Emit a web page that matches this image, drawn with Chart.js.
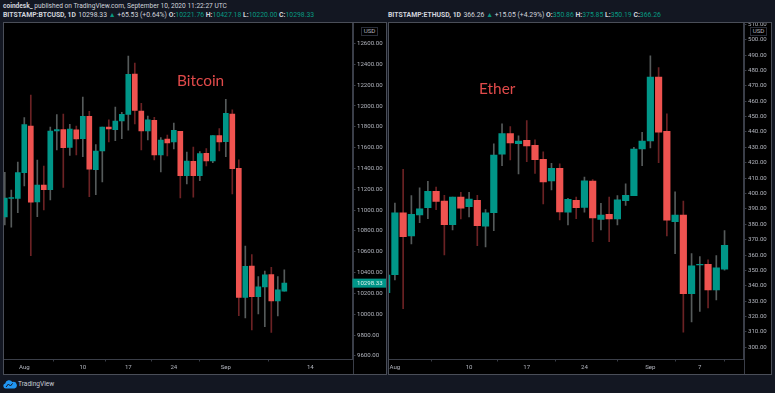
<!DOCTYPE html>
<html>
<head>
<meta charset="utf-8">
<title>BTC and ETH daily candles</title>
<script src="https://cdn.jsdelivr.net/npm/chart.js@4/dist/chart.umd.min.js"></script>
<style>
  html, body { margin: 0; padding: 0; background: #131722; width: 775px; height: 393px; overflow: hidden; }
  body { font-family: Roboto, sans-serif; color: #d1d4dc; position: relative; }
  .line { position: absolute; left: 3px; white-space: nowrap; font-size: 6.6px; line-height: 8px; }
  .line.quote { font-size: 6.85px; }
  .line b { font-weight: 700; }
  .line i { font-style: normal; color: #089981; }
  .line span { margin-left: 2.4px; }
  .panel { position: absolute; top: 22px; width: 382px; height: 351px; border: 1px solid #4a4e58; background: #000; }
  .panel canvas { position: absolute; left: 0; top: 0; }
  .badge { position: absolute; top: 4px; width: 15px; height: 7px; border: 1px solid #2a2e39; background: #000;
           font-size: 6.2px; line-height: 7px; text-align: center; color: #b2b5be; }
  .coin { position: absolute; font-family: Lato, sans-serif; font-size: 15.4px; line-height: 18px; color: #e04a4a; }
  .brand { position: absolute; left: 18px; top: 380px; font-size: 6.6px; line-height: 9px; color: #c8ccd6; }
  .logo { position: absolute; left: 3px; top: 379px; }
</style>
</head>
<body>
<div class="line" style="top:2px"><b>coindesk_</b> published on TradingView.com, September 10, 2020 11:22:27 UTC</div>
<div class="line quote" style="top:11px"><b>BITSTAMP:BTCUSD, 1D</b><span>10298.33</span> <i>▲</i> +65.53 (+0.64%) <b>O:</b><i>10221.76</i> <b>H:</b><i>10427.18</i> <b>L:</b><i>10220.00</i> <b>C:</b><i>10298.33</i></div>
<div class="line quote" style="top:11px;left:388px"><b>BITSTAMP:ETHUSD, 1D</b><span>366.26</span> <i>▲</i> +15.05 (+4.29%) <b>O:</b><i>350.86</i> <b>H:</b><i>375.85</i> <b>L:</b><i>350.19</i> <b>C:</b><i>366.26</i></div>

<div class="panel" style="left:3px">
  <canvas id="btcChart" width="382" height="351"></canvas>
  <div class="badge" style="left:357px">USD</div>
  <div class="coin" style="left:173px;top:48px">Bitcoin</div>
</div>
<div class="panel" style="left:388px">
  <canvas id="ethChart" width="382" height="351"></canvas>
  <div class="badge" style="left:361px">USD</div>
  <div class="coin" style="left:90px;top:56px">Ether</div>
</div>

<svg class="logo" width="14" height="10" viewBox="0 0 14 10">
  <path d="M2.8 9.5 A2.6 2.6 0 0 1 2.2 4.4 A4 4 0 0 1 9.4 3 A3.3 3.3 0 0 1 11.4 9.5 Z" fill="#2196f3"/>
  <path d="M3 8 L5.4 5 L7.4 7 L9.6 4.4" fill="none" stroke="#131722" stroke-width="1"/>
</svg>
<div class="brand">TradingView</div>

<script>
// days counted from Aug 1 2020
const btcDays = [-3, -2, -1, 0, 1, 2, 3, 4, 5, 6, 7, 8, 9, 10, 11, 12, 13, 14, 15, 16, 17, 18, 19, 20, 21, 22, 23, 24, 25, 26, 27, 28, 29, 30, 31, 32, 33, 34, 35, 36, 37, 38, 39, 40];
const btcOpen = [10934, 11112, 11113, 11360, 11808, 11078, 11241, 11196, 11760, 11773, 11603, 11770, 11686, 11901, 11388, 11568, 11798, 11773, 11856, 11920, 12307, 11952, 11760, 11862, 11529, 11683, 11654, 11757, 11331, 11469, 11331, 11545, 11472, 11715, 11657, 11923, 11402, 10162, 10463, 10169, 10262, 10380, 10127, 10221.76];
const btcHigh = [11363, 11193, 11462, 11888, 12106, 11481, 11424, 11798, 11917, 11923, 11824, 11808, 12086, 11949, 11629, 11798, 11866, 11990, 11939, 12480, 12413, 12026, 11904, 11891, 11696, 11721, 11837, 11757, 11558, 11606, 11561, 11590, 11715, 11782, 12064, 11962, 11482, 10655, 10572, 10361, 10415, 10451, 10361, 10427.18];
const btcLow = [10857, 10835, 10975, 11232, 10562, 10937, 11001, 11097, 11577, 11219, 11526, 11529, 11513, 11129, 11148, 11270, 11654, 11667, 11686, 11769, 11827, 11577, 11673, 11481, 11366, 11520, 11587, 11116, 11251, 11123, 11283, 11424, 11456, 11568, 11513, 11155, 9986, 9964, 9849, 10002, 9881, 9826, 9983, 10220];
const btcClose = [11116, 11120, 11360, 11821, 11075, 11241, 11196, 11760, 11773, 11600, 11779, 11683, 11901, 11392, 11568, 11798, 11779, 11856, 11920, 12304, 11958, 11760, 11866, 11529, 11673, 11645, 11766, 11331, 11472, 11331, 11542, 11472, 11715, 11654, 11930, 11398, 10162, 10460, 10169, 10262, 10377, 10127, 10233, 10298.33];

const ethDays = [-1, 0, 1, 2, 3, 4, 5, 6, 7, 8, 9, 10, 11, 12, 13, 14, 15, 16, 17, 18, 19, 20, 21, 22, 23, 24, 25, 26, 27, 28, 29, 30, 31, 32, 33, 34, 35, 36, 37, 38, 39, 40];
const ethOpen = [335.6, 347.3, 387.5, 372.4, 386, 390.8, 401.4, 395.1, 379.8, 397.7, 391.4, 395.6, 378.7, 387.5, 425.5, 438.9, 432.4, 434.5, 431.3, 422.2, 408.1, 416.4, 387.8, 395.6, 391, 408.1, 383.2, 386.5, 383.4, 395.4, 398.6, 428.9, 434.1, 475.7, 440.4, 381.7, 386, 334.9, 353.5, 354, 337.3, 350.86];
const ethHigh = [360, 393.8, 415.7, 398.6, 403.6, 407.9, 404.2, 398.8, 397.7, 400.8, 400.8, 398.8, 389.5, 432.2, 445.2, 443.4, 437.4, 447.3, 434.8, 427, 419.6, 419.2, 396.9, 397.7, 410.7, 409, 393.6, 397.7, 398.6, 406.2, 430, 439.8, 489.4, 481.8, 451.7, 401, 395.1, 360.9, 359, 356.8, 359.6, 375.85];
const ethLow = [330, 343.8, 325.2, 367.2, 381, 383.7, 389.5, 360, 376.3, 383.4, 384.7, 366.1, 365.2, 375.9, 418.1, 421.8, 412.7, 420.7, 413.1, 393.2, 402.3, 382.8, 379.5, 383.7, 387.8, 368.7, 376.3, 368.7, 379.5, 392.3, 398.6, 418.1, 429.6, 420, 372.4, 360.9, 309.8, 316.5, 323.4, 325.6, 330.8, 350.19];
const ethClose = [347, 387.5, 372, 386.5, 390, 401.4, 394.9, 379.8, 397.7, 390.4, 396.4, 379.1, 387.5, 425, 438.9, 432.8, 434.1, 430.9, 422, 407.5, 416.4, 388, 396.2, 390.8, 408.3, 384.1, 386, 383.4, 395.8, 398.8, 428.9, 434.1, 475.7, 439.8, 382.6, 386, 334.9, 352.9, 354, 337.3, 351.6, 366.26];

const btcPriceTicks = [9600, 9800, 10000, 10200, 10400, 10600, 10800, 11000, 11200, 11400, 11600, 11800, 12000, 12200, 12400, 12600];
const ethPriceTicks = [300, 310, 320, 330, 340, 350, 360, 370, 380, 390, 400, 410, 420, 430, 440, 450, 460, 470, 480, 490, 500, 510];

const btcDateTicks = [0, 9, 16, 23, 31, 44];
const btcDateLabels = ["Aug", "10", "17", "24", "Sep", "14"];
const ethDateTicks = [0, 9, 16, 23, 31, 37];
const ethDateLabels = ["Aug", "10", "17", "24", "Sep", "7"];

const upColor = "#009688";
const downColor = "#ef5350";
const upWick = "#555a5a";
const downWick = "#6b2224";
const lineColor = "#3a3e48";
const textColor = "#b2b5be";
const tickFont = { family: "Roboto, sans-serif", size: 6.1 };

// carries the price scale line down through the date strip, and the last price flag
function panelExtras(lastPrice) {
  return {
    id: "panelExtras",
    afterDraw(chart) {
      const ctx = chart.ctx;
      const area = chart.chartArea;
      ctx.save();
      ctx.fillStyle = lineColor;
      ctx.fillRect(Math.round(area.right), area.top, 1, chart.height);
      if (lastPrice) {
        const y = chart.scales.y.getPixelForValue(lastPrice);
        ctx.fillStyle = upColor;
        ctx.fillRect(area.right, y - 4.5, chart.width - area.right, 9);
        ctx.fillStyle = "#d8f0ec";
        ctx.font = "6.1px Roboto, sans-serif";
        ctx.textBaseline = "middle";
        ctx.fillText(lastPrice.toFixed(2), area.right + 4.5, y + 0.3);
      }
      ctx.restore();
    }
  };
}

function drawCandles(id, days, open, high, low, close, cfg) {
  const up = days.map((d, i) => close[i] >= open[i]);
  return new Chart(document.getElementById(id).getContext("2d"), {
    type: "bar",
    plugins: [panelExtras(cfg.lastPrice)],
    data: {
      datasets: [
        {
          label: "body",
          data: days.map((d, i) => ({ x: d, y: [open[i], close[i]] })),
          backgroundColor: up.map(u => (u ? upColor : downColor)),
          barThickness: cfg.bodyWidth,
          grouped: false,
          borderSkipped: false,
          order: 1
        },
        {
          label: "wick",
          data: days.map((d, i) => ({ x: d, y: [low[i], high[i]] })),
          backgroundColor: up.map(u => (u ? upWick : downWick)),
          barThickness: 1,
          grouped: false,
          borderSkipped: false,
          order: 2
        }
      ]
    },
    options: {
      responsive: false,
      animation: false,
      events: [],
      layout: { padding: 0, autoPadding: false },
      plugins: { legend: { display: false }, tooltip: { enabled: false } },
      scales: {
        x: {
          type: "linear",
          offset: false,
          min: cfg.xMin,
          max: cfg.xMax,
          afterFit(scale) {
            scale.height = 14.5;
            scale.paddingLeft = 0;
            scale.paddingRight = 0;
          },
          afterBuildTicks(scale) { scale.ticks = cfg.dateTicks.map(value => ({ value })); },
          border: { color: lineColor },
          grid: { drawOnChartArea: false, tickLength: 2, tickColor: lineColor },
          ticks: {
            autoSkip: false,
            maxRotation: 0,
            padding: 2,
            color: textColor,
            font: tickFont,
            callback: value => cfg.dateLabels[cfg.dateTicks.indexOf(value)]
          }
        },
        y: {
          position: "right",
          min: cfg.yMin,
          max: cfg.yMax,
          afterFit(scale) {
            scale.width = cfg.axisWidth;
            scale.paddingTop = 0;
            scale.paddingBottom = 0;
          },
          afterBuildTicks(scale) { scale.ticks = cfg.priceTicks.map(value => ({ value })); },
          border: { color: lineColor },
          grid: { drawOnChartArea: false, tickLength: 3, tickColor: lineColor },
          ticks: {
            autoSkip: false,
            padding: 1.5,
            color: textColor,
            font: tickFont,
            callback: value => value.toFixed(2)
          }
        }
      }
    }
  });
}

drawCandles("btcChart", btcDays, btcOpen, btcHigh, btcLow, btcClose, {
  bodyWidth: 5, axisWidth: 33.5,
  xMin: -3.123, xMax: 50.49, yMin: 9564.8, yMax: 12797.3,
  priceTicks: btcPriceTicks, dateTicks: btcDateTicks, dateLabels: btcDateLabels,
  lastPrice: btcClose[btcClose.length - 1]
});

drawCandles("ethChart", ethDays, ethOpen, ethHigh, ethLow, ethClose, {
  bodyWidth: 6.5, axisWidth: 27.5,
  xMin: -0.716, xMax: 42.3, yMin: 292.1, yMax: 510.8,
  priceTicks: ethPriceTicks, dateTicks: ethDateTicks, dateLabels: ethDateLabels
});
</script>
</body>
</html>
